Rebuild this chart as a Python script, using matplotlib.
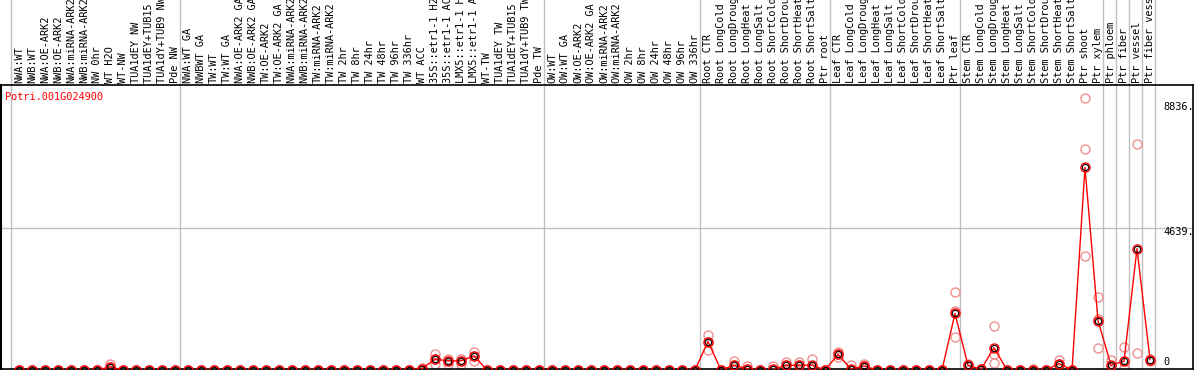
import numpy as np
import matplotlib
matplotlib.use('Agg')
import matplotlib.pyplot as plt
import matplotlib.transforms as mtransforms

gene = 'Potri.001G024900'

samples = ['NWA:WT', 'NWB:WT', 'NWA:OE-ARK2', 'NWB:OE-ARK2', 'NWA:miRNA-ARK2', 'NWB:miRNA-ARK2',
           'NW 0hr', 'WT H2O', 'WT-NW', 'TUA1dEY NW', 'TUA1dEY+TUB15 NW', 'TUA1dY+TUB9 NW', 'Pde NW',
           'NWA:WT GA', 'NWBWT GA', 'TW:WT', 'TW:WT GA', 'NWA:OE-ARK2 GA', 'NWB:OE-ARK2 GA',
           'TW:OE-ARK2', 'TW:OE-ARK2 GA', 'NWA:miRNA-ARK2 GA', 'NWB:miRNA-ARK2 GA', 'TW:miRNA-ARK2',
           'TW:miRNA-ARK2 GA', 'TW 2hr', 'TW 8hr', 'TW 24hr', 'TW 48hr', 'TW 96hr', 'TW 336hr', 'WT ACC',
           '35S::etr1-1 H2O', '35S::etr1-1 ACC', 'LMX5::etr1-1 H2O', 'LMX5::etr1-1 ACC', 'WT-TW',
           'TUA1dEY TW', 'TUA1dEY+TUB15 TW', 'TUA1dY+TUB9 TW', 'Pde TW',
           'OW:WT', 'OW:WT GA', 'OW:OE-ARK2', 'OW:OE-ARK2 GA', 'OW:miRNA-ARK2', 'OW:miRNA-ARK2 GA',
           'OW 2hr', 'OW 8hr', 'OW 24hr', 'OW 48hr', 'OW 96hr', 'OW 336hr',
           'Root CTR', 'Root LongCold', 'Root LongDrought', 'Root LongHeat', 'Root LongSalt',
           'Root ShortCold', 'Root ShortDrought', 'Root ShortHeat', 'Root ShortSalt', 'Ptr root',
           'Leaf CTR', 'Leaf LongCold', 'Leaf LongDrought', 'Leaf LongHeat', 'Leaf LongSalt',
           'Leaf ShortCold', 'Leaf ShortDrought', 'Leaf ShortHeat', 'Leaf ShortSalt', 'Ptr leaf',
           'Stem CTR', 'Stem LongCold', 'Stem LongDrought', 'Stem LongHeat', 'Stem LongSalt',
           'Stem ShortCold', 'Stem ShortDrought', 'Stem ShortHeat', 'Stem ShortSalt', 'Ptr shoot',
           'Ptr xylem', 'Ptr phloem', 'Ptr fiber', 'Ptr vessel', 'Ptr fiber vessel']

# mean expression per sample
means = [0, 0, 0, 0, 0, 0, 0, 100, 0, 0, 0, 0, 0,
         0, 0, 0, 0, 0, 0, 0, 0, 0, 0, 0, 0, 0, 0, 0, 0, 0, 0, 44, 354, 298, 298, 464, 0, 0, 0, 0, 0,
         0, 0, 0, 0, 0, 0, 0, 0, 0, 0, 0, 0,
         928, 0, 155, 44, 0, 20, 155, 155, 155, 0,
         508, 30, 133, 0, 0, 0, 0, 0, 0, 1846,
         155, 20, 729, 0, 0, 10, 0, 210, 0, 6617, 1613,
         155, 288, 3967, 342]

# individual replicates (nan = no replicate)
rep_a = [0, 0, 0, 0, 0, 0, 0, 210, 0, 0, 0, 0, 0,
         0, 0, 0, 0, 0, 0, 0, 0, 0, 0, 0, 0, 0, 0, 0, 0, 0, 0, 80, 508, 354, 354, 597, 0, 0, 0, 0, 0,
         0, 0, 0, 0, 0, 0, 0, 0, 0, 0, 0, 0,
         1150, 0, 288, 133, 0, 133, 265, 265, 354, 0,
         597, 155, 199, 0, 0, 0, 0, 0, 0, 2552,
         210, 0, 1447, 0, 0, 30, 0, 342, 0, 8900, 2386,
         342, 762, 7390, 375]
rep_b = [0, 0, 0, 0, 0, 0, 0, 100, 0, 0, 0, 0, 0,
         0, 0, 0, 0, 0, 0, 0, 0, 0, 0, 0, 0, 0, 0, 0, 0, 0, 0, 44, 354, 298, 298, 464, 0, 0, 0, 0, 0,
         0, 0, 0, 0, 0, 0, 0, 0, 0, 0, 0, 0,
         928, 0, 155, 0, 0, 0, 155, 155, 100, 0,
         508, 0, 133, 0, 0, 0, 0, 0, 0, 1922,
         155, 20, 510, 0, 0, 0, 0, 210, 0, 7214, 1680,
         100, 60, np.nan, 342]
rep_c = [0, 0, 0, 0, 0, 0, 0, 0, 0, 0, 0, 0, 0,
         0, 0, 0, 0, 0, 0, 0, 0, 0, 0, 0, 0, 0, 0, 0, 0, 0, 0, 10, 188, 200, 200, 300, 0, 0, 0, 0, 0,
         0, 0, 0, 0, 0, 0, 0, 0, 0, 0, 0, 0,
         653, 0, 20, 0, 0, 0, 40, 40, 20, 0,
         420, 0, 70, 0, 0, 0, 0, 0, 0, 1083,
         0, 0, 232, 0, 0, 0, 0, 155, 0, 3712, 729,
         0, 30, 563, 310]

# last sample index of each group (gray separators)
group_ends = [-1, 12, 40, 52, 62, 72, 83, 84, 85, 86, 87]
y_grid = [4639]
y_tick_text = ['8836.', '4639.', '0']
y_tick_pix = [107, 232, 362]

W, H = 1194, 370
fig = plt.figure(figsize=(W / 100, H / 100), dpi=100)
# axes box in pixels: x 1..1193, y 85..369 (from top)
ax = fig.add_axes([1 / W, 1 - 369 / H, 1192 / W, 284 / H])
x = np.arange(len(samples))
px_unit = 4639 / 142.0
ax.set_xlim(-18 / 13, 1174 / 13)
ax.set_ylim(1 * px_unit, 285 * px_unit)
ax.set_xticks([])
ax.set_yticks([])
for s in ax.spines.values():
    s.set_color('black')
    s.set_linewidth(1.2)
ax.spines['left'].set_linewidth(1.5)

mono = 'DejaVu Sans Mono'
fs = 7.4

# separators, extended up through the label area
top_frac = 369 / 284
for g in group_ends:
    ax.axvline(g + 0.38, ymin=0, ymax=top_frac, color='#c0c0c0', lw=1, clip_on=False, zorder=0)
for yv in y_grid:
    ax.axhline(yv, color='#c0c0c0', lw=1, zorder=0)

# replicates
for rep in (rep_a, rep_b, rep_c):
    ax.plot(x, rep, ls='none', marker='o', ms=6.5, mfc='none', mec='#f09090', mew=1.0, zorder=2)

ax.plot(x, means, color='red', lw=1, zorder=3)
ax.plot(x, means, ls='none', marker='o', ms=6.5, mfc='none', mec='red', mew=1.0, zorder=4)
ax.plot(x, means, ls='none', marker='o', ms=4.5, mfc='none', mec='black', mew=0.8, zorder=5)

# sample labels above the plot
trans = mtransforms.blended_transform_factory(ax.transData, ax.transAxes)
for i, name in enumerate(samples):
    ax.text(i, 1.0 + 2 / 284, name, transform=trans, rotation=90, ha='center', va='bottom',
            fontsize=fs, family=mono, color='black', clip_on=False)

# gene name and right side value labels
fig.text(5 / W, 1 - 97 / H, gene, color='red', fontsize=fs, family=mono, ha='left', va='center')
for txt, ypix in zip(y_tick_text, y_tick_pix):
    fig.text(1163 / W, 1 - ypix / H, txt, fontsize=fs, family=mono, ha='left', va='center')

fig.savefig('out.png', dpi=100)
